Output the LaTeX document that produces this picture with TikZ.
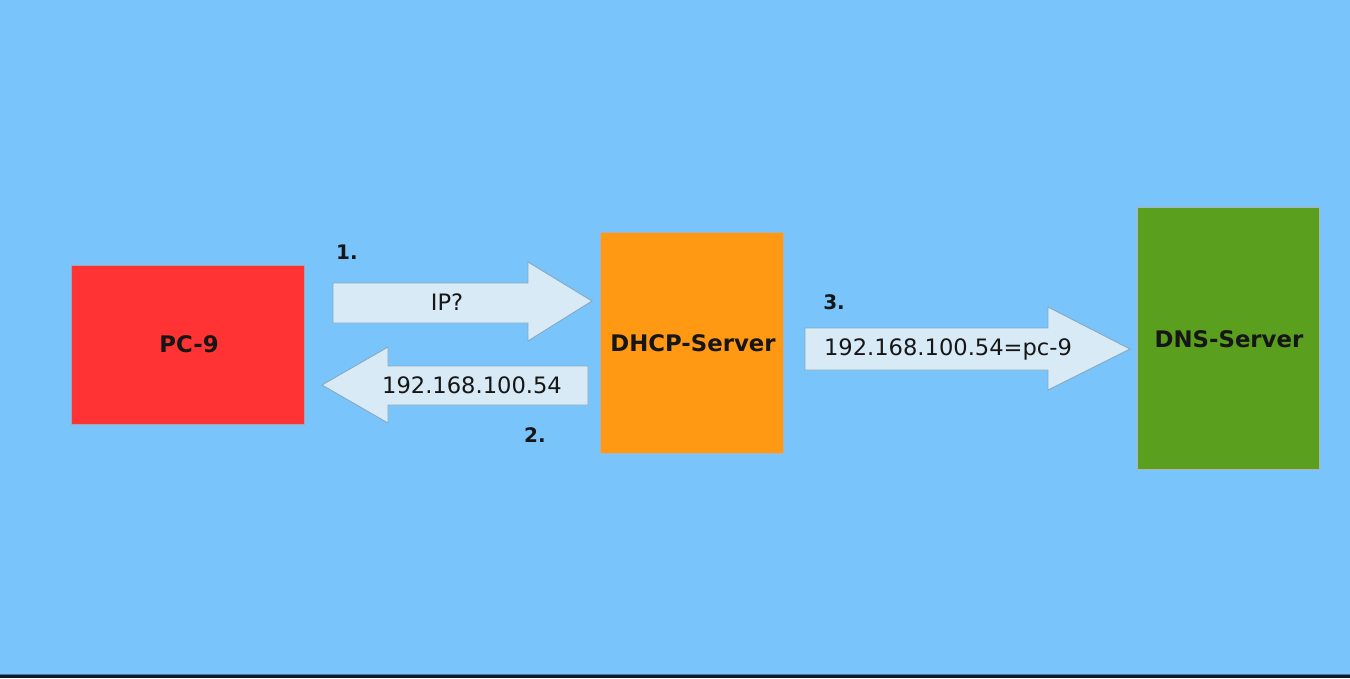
\documentclass[tikz,border=0pt]{standalone}
\usepackage{fontspec}
\setmainfont{DejaVu Sans}
\definecolor{bg}{HTML}{78C4FB}
\definecolor{pcred}{HTML}{FF3333}
\definecolor{dhcporange}{HTML}{FF9914}
\definecolor{dnsgreen}{HTML}{5AA01E}
\definecolor{arrowfill}{HTML}{D8EAF6}
\definecolor{arrowline}{HTML}{8AA9C0}
\definecolor{txt}{HTML}{161616}
\definecolor{bottomline}{HTML}{0B1A27}
\begin{document}
\begin{tikzpicture}[x=1pt,y=-1pt,
  blockarrow/.style={fill=arrowfill, draw=arrowline, line width=0.9pt, line join=miter},
  btitle/.style={font=\fontsize{22.8}{26}\selectfont\bfseries, text=txt},
  alabel/.style={font=\fontsize{22.6}{26}\selectfont, text=txt},
  stepnum/.style={font=\fontsize{20}{22}\selectfont\bfseries, text=txt}]
\fill[bg] (0,0) rectangle (1350,678);
\useasboundingbox (0,0) rectangle (1350,678);
\fill[black!40!bg] (0,673.5) rectangle (1350,675);
\fill[bottomline] (0,675) rectangle (1350,678);

% boxes
\filldraw[fill=pcred, draw=black!35, line width=0.9pt] (71,265) rectangle (304,424);
\filldraw[fill=dhcporange, draw=black!30, line width=0.9pt] (600,232) rectangle (783,453);
\filldraw[fill=dnsgreen, draw=black!30, line width=0.9pt] (1137,207) rectangle (1319,469);
\node[btitle] (pc) at (189,344) {PC-9};
\node[btitle] (dhcp) at (693,343) {DHCP-Server};
\node[btitle] (dns) at (1229,339) {DNS-Server};

% arrow 1 (right)
\draw[blockarrow] (333,283) -- (528,283) -- (528,262) -- (592,301) -- (528,341) -- (528,323) -- (333,323) -- cycle;
\node[alabel] (ip) at (447,302) {IP?};
\node[stepnum] (n1) at (347,252) {1.};

% arrow 2 (left)
\draw[blockarrow] (588,366) -- (388,366) -- (388,347) -- (322,385) -- (388,423) -- (388,405) -- (588,405) -- cycle;
\node[alabel] (addr) at (472,385) {192.168.100.54};
\node[stepnum] (n2) at (535,435) {2.};

% arrow 3 (right)
\draw[blockarrow] (805,328) -- (1048,328) -- (1048,307) -- (1130,349) -- (1048,390) -- (1048,370) -- (805,370) -- cycle;
\node[alabel] (map) at (948,349) {192.168.100.54=pc-9};
\node[stepnum] (n3) at (834,302) {3.};
\end{tikzpicture}
\end{document}
